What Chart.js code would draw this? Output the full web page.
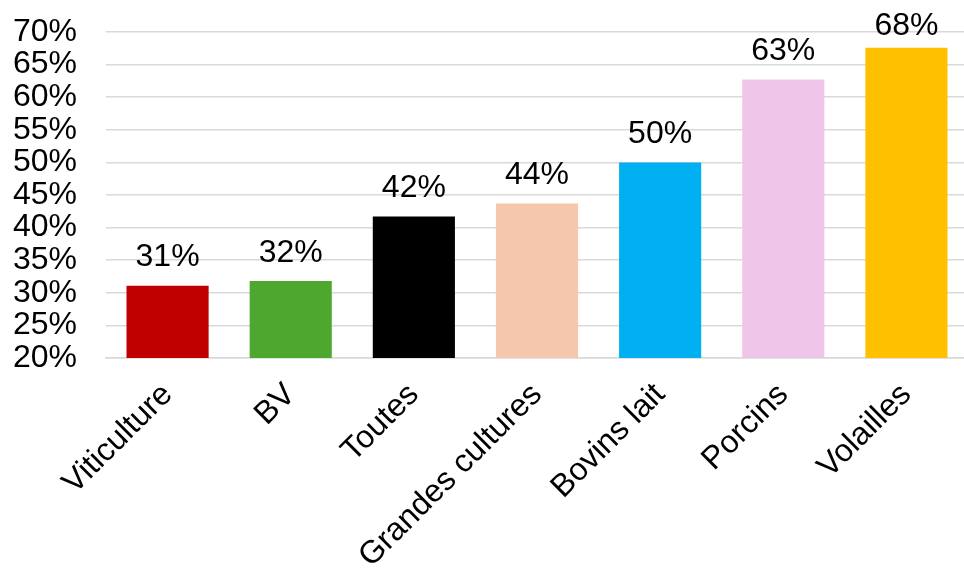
<!DOCTYPE html>
<html>
<head>
<meta charset="utf-8">
<script src="https://cdn.jsdelivr.net/npm/chart.js@4"></script>
<style>
  html, body { margin: 0; padding: 0; background: #fff; overflow: hidden; }
  #wrap { width: 964px; height: 570px; overflow: hidden; }
</style>
</head>
<body>
<div id="wrap"><canvas id="chart" width="968" height="570"></canvas></div>
<script>
// --- DONNÉES ---
const categories = ['Viticulture', 'BV', 'Toutes', 'Grandes cultures', 'Bovins lait', 'Porcins', 'Volailles'];
const valeurs = [31.1, 31.8, 41.7, 43.7, 50.0, 62.7, 67.6];
const couleurs = ['#C00000', '#4EA72E', '#000000', '#F5C7AC', '#00B0F0', '#EFC6E9', '#FFC000'];
const yTicks = [20, 25, 30, 35, 40, 45, 50, 55, 60, 65, 70];

const FONT = "'Liberation Sans', Arial, sans-serif";
const FONT_SIZE = 32;

// étiquettes de valeur au-dessus des barres
const labelPlugin = {
    id: 'valeurLabels',
    afterDatasetsDraw(chart) {
        const ctx = chart.ctx;
        const meta = chart.getDatasetMeta(0);
        ctx.save();
        ctx.font = FONT_SIZE + 'px ' + FONT;
        ctx.fillStyle = '#000';
        ctx.textAlign = 'center';
        ctx.textBaseline = 'middle';
        meta.data.forEach((bar, i) => {
            // on garde l'étiquette dans le cadre, comme Excel
            ctx.fillText(Math.round(valeurs[i]) + '%', bar.x, Math.max(bar.y - 28, 26));
        });
        ctx.restore();
    }
};

new Chart(document.getElementById('chart').getContext('2d'), {
    type: 'bar',
    data: {
        labels: categories,
        datasets: [{
            data: valeurs,
            backgroundColor: couleurs,
            borderWidth: 0,
            categoryPercentage: 1,
            barPercentage: 0.667
        }]
    },
    options: {
        responsive: false,
        animation: false,
        devicePixelRatio: 1,
        layout: { padding: { left: 12, right: 0, top: 32, bottom: 0 } },
        plugins: {
            legend: { display: false },
            tooltip: { enabled: false }
        },
        scales: {
            y: {
                min: 20,
                max: 70,
                afterBuildTicks: axis => { axis.ticks = yTicks.map(v => ({ value: v })); },
                // largeur fixe : Chart.js compte le padding deux fois
                afterFit: scale => { scale.width = 94; scale.paddingTop = 0; scale.paddingBottom = 0; },
                ticks: {
                    color: '#000',
                    font: { family: FONT, size: FONT_SIZE },
                    padding: 29,
                    autoSkip: false,
                    callback: v => v + '%'
                },
                grid: { color: '#D9D9D9', lineWidth: 1.5, drawTicks: false },
                border: { display: false }
            },
            x: {
                afterFit: scale => { scale.paddingLeft = 0; scale.paddingRight = 0; scale.height = 212; },
                ticks: {
                    color: '#000',
                    font: { family: FONT, size: FONT_SIZE },
                    minRotation: 45,
                    maxRotation: 45,
                    autoSkip: false,
                    padding: 10
                },
                grid: { display: false },
                border: { color: '#D9D9D9', width: 1.5 }
            }
        }
    },
    plugins: [labelPlugin]
});
</script>
</body>
</html>
